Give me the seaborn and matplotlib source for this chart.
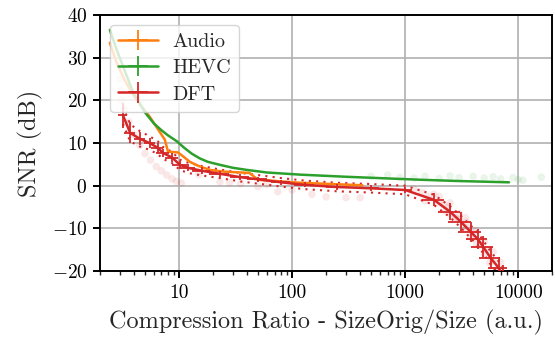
import matplotlib
matplotlib.use("Agg")
import matplotlib.pyplot as plt
import numpy as np
import pandas as pd
import seaborn as sns

# Mean SNR curves versus compression ratio
audio_x = [2.45, 2.8, 3.3, 4.0, 4.7, 5.5, 6.5, 7.5, 8.0, 9.8, 10.5, 12.5, 15, 18.8, 25, 42, 50, 118, 420]
audio_y = [33.5, 29.0, 24.8, 21.0, 18.5, 16.2, 13.3, 10.8, 8.0, 7.8, 7.2, 5.6, 4.6, 3.7, 3.3, 3.0, 1.4, 0.7, 0.1]

hevc_x = [2.45, 2.8, 3.2, 3.6, 4.0, 5.0, 6.0, 7.0, 8.0, 9.6, 11, 13, 15.3, 18, 23, 30, 40, 60, 118, 300, 1370, 3000, 8300]
hevc_y = [36.5, 32, 28, 24.5, 21.5, 17.2, 14.6, 13.0, 11.8, 10.4, 9.0, 7.5, 6.4, 5.6, 4.9, 4.2, 3.7, 3.1, 2.6, 2.1, 1.4, 1.1, 0.8]

dft_x = [3.2, 3.7, 4.5, 5.5, 6.5, 7.2, 8.7, 10.2, 12, 16, 23, 35, 50, 80, 130, 250, 500, 1000,
         1800, 2500, 3100, 3800, 4400, 4900, 5700, 6700, 7300]
dft_y = [16.5, 12.4, 11.0, 10.0, 8.9, 7.7, 6.6, 4.9, 4.2, 3.5, 2.8, 2.0, 1.5, 0.8, 0.2, -0.3, -0.6, -1.0,
         -3.3, -6.1, -8.4, -10.8, -12.5, -14.3, -16.9, -19.2, -21.0]
dft_xerr = [0.3, 0.4, 0.5, 0.6, 0.8, 0.9, 1.2, 1.6, 2.0, 3.0, 4.5, 7, 10, 15, 25, 50, 90, 150,
            400, 550, 700, 850, 950, 1050, 1200, 1300, 1400]
dft_yerr = [3.0, 2.5, 1.5, 1.2, 1.2, 1.0, 1.0, 1.0, 0.8, 0.8, 0.7, 0.7, 0.6, 0.6, 0.6, 0.6, 0.7, 0.8,
            1.5, 2.0, 2.2, 2.3, 2.4, 2.5, 2.5, 2.5, 2.5]
dft_std = [2.0, 2.0, 1.8, 1.6, 1.5, 1.4, 1.3, 1.2, 1.2, 1.1, 1.0, 1.0, 1.0, 1.0, 1.0, 1.0, 1.0, 1.0,
           1.2, 1.3, 1.4, 1.5, 1.5, 1.5, 1.5, 1.5, 1.5]

# Individual DFT samples
dft_raw_x = [3.0, 3.05, 3.1, 3.3, 3.6, 4.0, 4.5, 5.0, 5.6, 6.3, 7.0, 7.8, 8.7, 9.5, 10.5,
             15, 23, 28, 35, 50, 60, 75, 100, 150, 200, 300, 400,
             1200, 1400, 1600, 1800, 2000, 2200, 2400, 2600, 2800, 3000, 3300, 3600, 3800, 4000,
             4300, 4600, 5000, 5300, 5600, 6000, 6500, 7000, 2000, 2500, 3000, 3500, 4200, 5000,
             6000, 7000, 1500, 2300, 3400]
dft_raw_y = [25, 22.5, 20, 18, 15, 12, 9.5, 7.5, 6.0, 4.5, 3.5, 2.5, 1.6, 1.0, 0.6,
             2.6, 0.9, 0.7, 0.5, -0.2, 0.3, -1.4, -1.0, -2.0, -2.6, -2.8, -2.8,
             -0.8, -1.5, -2.5, -2.0, -4.0, -4.5, -5.0, -7.0, -7.5, -8.0, -9.5, -10.0, -12.0, -11.0,
             -13.5, -14.0, -16.0, -15.0, -18.0, -17.5, -19.5, -20.0, -2.5, -4.0, -6.5, -8.5, -10.5, -13.0,
             -15.5, -18.0, -3.5, -6.0, -7.5]

# Individual HEVC samples
hevc_raw_x = [500, 700, 900, 1200, 1500, 2000, 2500, 3000, 4000, 5000, 6000, 7000, 9000, 10000, 11000, 16000]
hevc_raw_y = [2.2, 2.5, 2.0, 1.8, 2.2, 1.7, 2.3, 1.9, 2.2, 1.8, 2.1, 1.6, 1.9, 1.4, 1.3, 2.0]

colors = {"Audio": "#ff7f0e", "HEVC": "#2ca02c", "DFT": "#d62728"}

sns.set_theme(style="whitegrid")
plt.rcParams.update({
    "font.family": ["cmr10", "DejaVu Serif"],
    "mathtext.fontset": "cm",
    "axes.formatter.use_mathtext": True,
    "axes.edgecolor": "black",
    "axes.linewidth": 1.4,
    "grid.color": "#b0b0b0",
    "grid.linewidth": 1.2,
})

fig = plt.figure(figsize=(5.55, 3.41), dpi=100)
ax = fig.add_axes([0.180, 0.205, 0.815, 0.751])

dft_raw = pd.DataFrame({"x": dft_raw_x, "y": dft_raw_y})
hevc_raw = pd.DataFrame({"x": hevc_raw_x, "y": hevc_raw_y})
sns.scatterplot(data=dft_raw, x="x", y="y", ax=ax, color=colors["DFT"], alpha=0.1,
                s=30, edgecolor="none", legend=False, zorder=1)
sns.scatterplot(data=hevc_raw, x="x", y="y", ax=ax, color=colors["HEVC"], alpha=0.1,
                s=30, edgecolor="none", legend=False, zorder=1)

# DFT spread as dotted bounds
dft_lo = [m - s for m, s in zip(dft_y, dft_std)]
dft_hi = [m + s for m, s in zip(dft_y, dft_std)]
sns.lineplot(x=dft_x, y=dft_lo, ax=ax, color=colors["DFT"], lw=1.5, ls=(0, (1, 2.5)), zorder=2)
sns.lineplot(x=dft_x, y=dft_hi, ax=ax, color=colors["DFT"], lw=1.5, ls=(0, (1, 2.5)), zorder=2)

ax.errorbar(audio_x, audio_y, xerr=np.zeros(len(audio_x)), yerr=np.zeros(len(audio_y)),
            color=colors["Audio"], lw=1.8, elinewidth=1.3, label="Audio", zorder=3)
ax.errorbar(hevc_x, hevc_y, xerr=np.zeros(len(hevc_x)), yerr=np.zeros(len(hevc_y)),
            color=colors["HEVC"], lw=1.8, elinewidth=1.3, label="HEVC", zorder=3)
ax.errorbar(dft_x, dft_y, xerr=dft_xerr, yerr=dft_yerr,
            color=colors["DFT"], lw=1.8, elinewidth=1.3, label="DFT", zorder=4)

ax.set_xscale("log")
ax.set_xlim(2.0, 20000)
ax.set_ylim(-20, 40)
ax.set_yticks([-20, -10, 0, 10, 20, 30, 40])
ax.set_xticks([10, 100, 1000, 10000])
ax.set_xticklabels(["10", "100", "1000", "10000"])
ax.xaxis.set_minor_formatter(matplotlib.ticker.NullFormatter())
ax.grid(True, which="major")
ax.grid(False, which="minor")
ax.tick_params(axis="both", which="major", direction="out", length=5, width=1.4,
               labelsize=14, left=True, bottom=True, colors="black", pad=4)
ax.tick_params(axis="x", which="minor", direction="out", length=3, width=1.0, bottom=True)
for sp in ax.spines.values():
    sp.set_color("black")
    sp.set_linewidth(1.4)

ax.set_xlabel("Compression Ratio - SizeOrig/Size (a.u.)", fontsize=17.5, labelpad=6)
ax.set_ylabel("SNR (dB)", fontsize=17.5, labelpad=6)

leg = ax.legend(loc="upper left", fontsize=14.5, framealpha=0.8, fancybox=True,
                borderpad=0.4, handlelength=2.0, labelspacing=0.4, handletextpad=0.7)
leg.get_frame().set_edgecolor("#cccccc")

fig.savefig("out.png", dpi=100)
